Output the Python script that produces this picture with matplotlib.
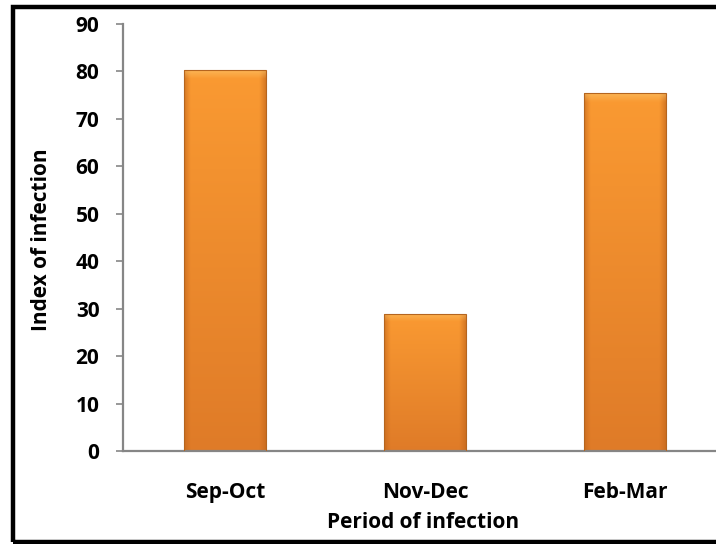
import matplotlib.pyplot as plt
import matplotlib.patches as mpatches
import numpy as np
from matplotlib.colors import to_rgb

periods = ["Sep-Oct", "Nov-Dec", "Feb-Mar"]
index_values = [80.3, 28.9, 75.4]
yticks = [0, 10, 20, 30, 40, 50, 60, 70, 80, 90]

plt.rcParams['font.family'] = ['Open Sans', 'DejaVu Sans']
plt.rcParams['font.weight'] = 'bold'

fig = plt.figure(figsize=(7.16, 5.44), dpi=100)
ax = fig.add_axes([123 / 716, 1 - 451 / 544, 1 - 123 / 716, (451 - 24) / 544])

x = np.arange(len(periods))
bars = ax.bar(x, index_values, width=0.41, color='none', edgecolor='none', zorder=2)

# orange gradient: lighter top, darker bottom, shaded sides
top_c = np.array(to_rgb('#FA9A32'))
bot_c = np.array(to_rgb('#DF7B28'))
edge_c = np.array(to_rgb('#C2661C'))
ny, nx = 200, 60
v = np.linspace(0, 1, ny)[:, None]
h = np.linspace(-1, 1, nx)[None, :]
base = top_c[None, None, :] * (1 - v[..., None]) + bot_c[None, None, :] * v[..., None]
side = np.clip((np.abs(h) - 0.85) / 0.15, 0, 1)[..., None]
for b in bars:
    bx, by = b.get_x(), b.get_y()
    bw, bh = b.get_width(), b.get_height()
    img = base * (1 - 0.6 * side) + edge_c * 0.6 * side
    # bevel highlight at the top (about 8 px)
    frac = 8 / (bh * 4.744)
    topband = np.clip(1 - v / frac, 0, 1)[..., None]
    img = img * (1 - 0.45 * topband) + np.array(to_rgb('#FDD27A')) * 0.45 * topband
    im = ax.imshow(np.clip(img, 0, 1), extent=[bx, bx + bw, by, by + bh],
                   aspect='auto', origin='upper', zorder=2, interpolation='bilinear')
    im.set_clip_path(b)
    ax.add_patch(mpatches.Rectangle((bx, by), bw, bh, fill=False,
                                    edgecolor='#B5651F', linewidth=0.8, zorder=3))

ax.set_xlim((123 - 225) / 200, (716 - 225) / 200)
ax.set_ylim(0, 90)
ax.set_yticks(yticks)
ax.set_xticks(x)
ax.set_xticklabels(periods, fontsize=15, fontweight='bold')
ax.tick_params(axis='x', length=0, pad=22)
ax.tick_params(axis='y', length=5, width=1.2, color='#868686', labelsize=15, pad=12)
for lab in ax.get_yticklabels():
    lab.set_fontweight('bold')

for s in ['top', 'right']:
    ax.spines[s].set_visible(False)
for s in ['left', 'bottom']:
    ax.spines[s].set_color('#868686')
    ax.spines[s].set_linewidth(1.6)

fig.text(42 / 716, 1 - 240 / 544, "Index of infection", rotation=90,
         ha='center', va='center', fontsize=15, fontweight='bold')
fig.text(423 / 716, 1 - 522 / 544, "Period of infection",
         ha='center', va='center', fontsize=15, fontweight='bold')

# black frame around the chart
fig.patches.append(mpatches.Rectangle((13 / 716, 2 / 544), 1.2, 1 - 9 / 544,
                                      transform=fig.transFigure, fill=False,
                                      edgecolor='black', linewidth=3.2))

fig.savefig('out.png', dpi=100)
